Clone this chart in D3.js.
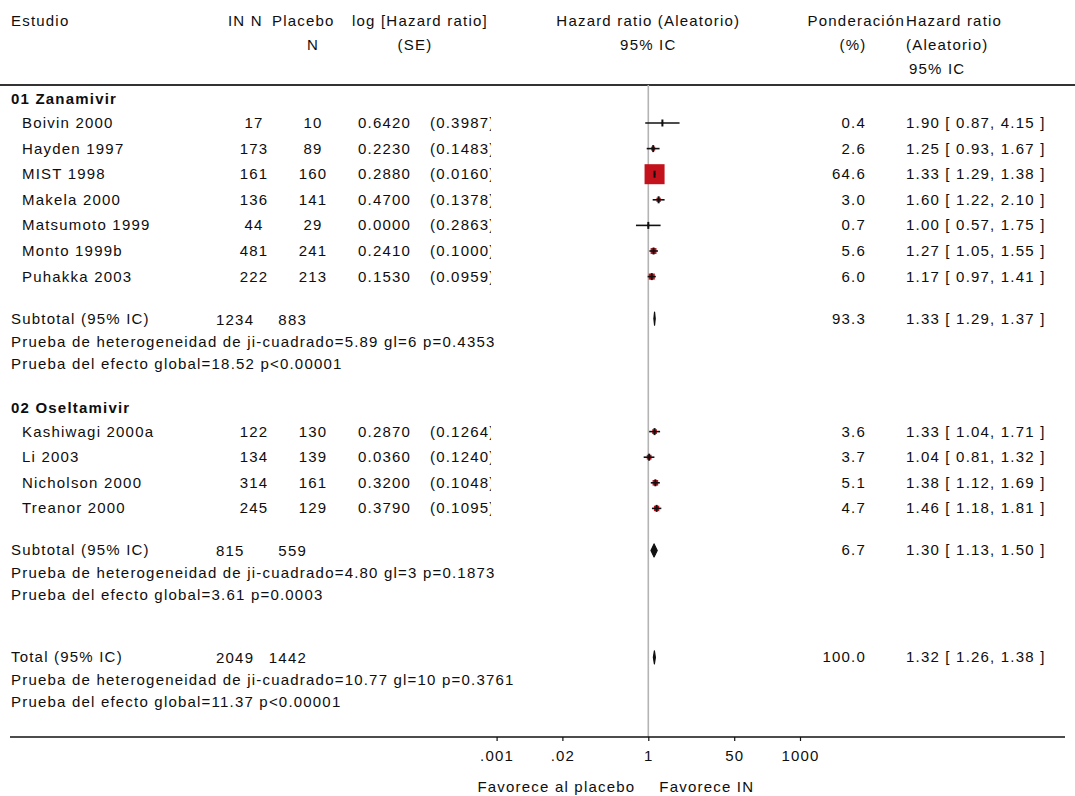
<!DOCTYPE html>
<html>
<head>
<meta charset="utf-8">
<script src="https://cdn.jsdelivr.net/npm/d3@7"></script>
<style>
  html, body { margin: 0; padding: 0; background: #fff; }
  svg text { font-family: "Liberation Sans", Arial, sans-serif; font-size: 15px; letter-spacing: 1.2px; fill: #0e0e0e; }
</style>
</head>
<body>
<svg id="chart" width="1075" height="796"></svg>
<script>
// ---- Data ----------------------------------------------------------------
const groupNames = ["01 Zanamivir", "02 Oseltamivir"];

const studyNames = ["Boivin 2000", "Hayden 1997", "MIST 1998", "Makela 2000", "Matsumoto 1999", "Monto 1999b", "Puhakka 2003",
                    "Kashiwagi 2000a", "Li 2003", "Nicholson 2000", "Treanor 2000"];
const studyGroup = [0, 0, 0, 0, 0, 0, 0, 1, 1, 1, 1];
const inN        = [17, 173, 161, 136, 44, 481, 222, 122, 134, 314, 245];
const placeboN   = [10, 89, 160, 141, 29, 241, 213, 130, 139, 161, 129];
const logHR      = [0.6420, 0.2230, 0.2880, 0.4700, 0.0000, 0.2410, 0.1530, 0.2870, 0.0360, 0.3200, 0.3790];
const logSE      = [0.3987, 0.1483, 0.0160, 0.1378, 0.2863, 0.1000, 0.0959, 0.1264, 0.1240, 0.1048, 0.1095];
const weights    = [0.4, 2.6, 64.6, 3.0, 0.7, 5.6, 6.0, 3.6, 3.7, 5.1, 4.7];
const hr         = [1.90, 1.25, 1.33, 1.60, 1.00, 1.27, 1.17, 1.33, 1.04, 1.38, 1.46];
const hrLow      = [0.87, 0.93, 1.29, 1.22, 0.57, 1.05, 0.97, 1.04, 0.81, 1.12, 1.18];
const hrHigh     = [4.15, 1.67, 1.38, 2.10, 1.75, 1.55, 1.41, 1.71, 1.32, 1.69, 1.81];

// Subtotals per group, then the overall total
const pooledLabels  = ["Subtotal (95% IC)", "Subtotal (95% IC)", "Total (95% IC)"];
const pooledInN     = [1234, 815, 2049];
const pooledPlacN   = [883, 559, 1442];
const pooledWeight  = [93.3, 6.7, 100.0];
const pooledHR      = [1.33, 1.30, 1.32];
const pooledLow     = [1.29, 1.13, 1.26];
const pooledHigh    = [1.37, 1.50, 1.38];
const chiSquare     = ["5.89", "4.80", "10.77"];
const chiDf         = [6, 3, 10];
const chiP          = ["0.4353", "0.1873", "0.3761"];
const effectZ       = ["18.52", "3.61", "11.37"];
const effectP       = ["p<0.00001", "p=0.0003", "p<0.00001"];

const tickValues = [0.001, 0.02, 1, 50, 1000];
const tickLabels = [".001", ".02", "1", "50", "1000"];

// ---- Layout ----------------------------------------------------------------
const W = 1075;
const svg = d3.select("#chart");
const x = d3.scaleLog().domain([0.001, 1000]).range([496.6, 800]);
const boxSide = d3.scaleSqrt().domain([0, 100]).range([0, 24.9]);

const col = { name: 11, indent: 22, inN: 254, plN: 313, poolIn: 216, poolPl: 307,
              logHR: 358, se: 430, seClip: 491, weight: 866, hrText: 906 };
const base = 5;              // text centre -> baseline
const rowStep = 25.6;
const headRuleY = 85, axisY = 737;

// Work out the vertical position of each row
const rows = [];
let y = 99;
groupNames.forEach((g, gi) => {
  rows.push({ type: "group", y, label: g });
  y += 24;
  const idx = studyNames.map((_, i) => i).filter(i => studyGroup[i] === gi);
  idx.forEach((i, k) => { rows.push({ type: "study", y, i }); if (k < idx.length - 1) y += rowStep; });
  y += 42;
  rows.push({ type: "pooled", y, i: gi });
  y += 23; rows.push({ type: "het", y, i: gi });
  y += 22; rows.push({ type: "eff", y, i: gi });
  y += 44;
});
y += 18;
rows.push({ type: "pooled", y, i: 2 });
y += 23; rows.push({ type: "het", y, i: 2 });
y += 22; rows.push({ type: "eff", y, i: 2 });

// ---- Header ----------------------------------------------------------------
const head = svg.append("g");
const ht = (tx, ty, s, anchor) => head.append("text").attr("x", tx).attr("y", ty + base).attr("text-anchor", anchor || "start").text(s);
ht(col.name, 21, "Estudio");
ht(228, 21, "IN N");
ht(272, 21, "Placebo");
ht(352, 21, "log [Hazard ratio]").attr("letter-spacing", "0.6px");
ht(313, 45, "N", "middle");
ht(415, 45, "(SE)", "middle");
ht(x(1), 21, "Hazard ratio (Aleatorio)", "middle");
ht(x(1), 45, "95% IC", "middle");
ht(col.hrText - 1, 21, "Ponderación", "end");
ht(853, 45, "(%)", "middle");
ht(col.hrText, 21, "Hazard ratio");
ht(col.hrText, 45, "(Aleatorio)");
ht(col.hrText + 3, 69, "95% IC");

svg.append("line").attr("x1", 0).attr("x2", W).attr("y1", headRuleY).attr("y2", headRuleY)
  .attr("stroke", "#333").attr("stroke-width", 2);

// Line of no effect
svg.append("line").attr("x1", x(1)).attr("x2", x(1)).attr("y1", headRuleY).attr("y2", axisY)
  .attr("stroke", "#b4b4b4").attr("stroke-width", 1.6);

// Clip for the truncated SE column
svg.append("defs").append("clipPath").attr("id", "seclip")
  .append("rect").attr("x", 0).attr("y", 0).attr("width", col.seClip).attr("height", 796);

const body = svg.append("g");
const txt = (tx, ty, s, anchor) => body.append("text").attr("x", tx).attr("y", ty + base).attr("text-anchor", anchor || "start").text(s);
const hrLabel = (h, l, u) => `${h.toFixed(2)} [ ${l.toFixed(2)}, ${u.toFixed(2)} ]`;

rows.forEach(r => {
  if (r.type === "group") {
    txt(col.name, r.y, r.label).attr("font-weight", "bold");
  } else if (r.type === "study") {
    const i = r.i;
    txt(col.indent, r.y, studyNames[i]);
    txt(col.inN, r.y, inN[i], "middle");
    txt(col.plN, r.y, placeboN[i], "middle");
    txt(col.logHR, r.y, logHR[i].toFixed(4));
    txt(col.se, r.y, `(${logSE[i].toFixed(4)})`).attr("clip-path", "url(#seclip)");
    txt(col.weight, r.y, weights[i].toFixed(1), "end");
    txt(col.hrText, r.y, hrLabel(hr[i], hrLow[i], hrHigh[i]));

    // Box sized by weight, confidence interval and point marker
    const s = boxSide(weights[i]);
    body.append("rect").attr("x", x(hr[i]) - s / 2).attr("y", r.y - s / 2)
      .attr("width", s).attr("height", s).attr("fill", "#c3121b");
    body.append("line").attr("x1", x(hrLow[i])).attr("x2", x(hrHigh[i]))
      .attr("y1", r.y).attr("y2", r.y).attr("stroke", "#111").attr("stroke-width", 1.6);
    body.append("line").attr("x1", x(hr[i])).attr("x2", x(hr[i]))
      .attr("y1", r.y - 3.5).attr("y2", r.y + 3.5).attr("stroke", "#111").attr("stroke-width", 2);
  } else if (r.type === "pooled") {
    const i = r.i;
    txt(col.name, r.y, pooledLabels[i]);
    txt(col.poolIn, r.y + 1, pooledInN[i]);
    txt(col.poolPl, r.y + 1, pooledPlacN[i], "end");
    txt(col.weight, r.y, pooledWeight[i].toFixed(1), "end");
    txt(col.hrText, r.y, hrLabel(pooledHR[i], pooledLow[i], pooledHigh[i]));
    const h = 6.5;
    const pts = [[x(pooledLow[i]), r.y], [x(pooledHR[i]), r.y - h], [x(pooledHigh[i]), r.y], [x(pooledHR[i]), r.y + h]];
    body.append("polygon").attr("points", pts.map(p => p.join(",")).join(" "))
      .attr("fill", "#111").attr("stroke", "#111").attr("stroke-width", 1.2).attr("stroke-linejoin", "round");
  } else if (r.type === "het") {
    txt(col.name, r.y, `Prueba de heterogeneidad de ji-cuadrado=${chiSquare[r.i]} gl=${chiDf[r.i]} p=${chiP[r.i]}`);
  } else if (r.type === "eff") {
    txt(col.name, r.y, `Prueba del efecto global=${effectZ[r.i]} ${effectP[r.i]}`);
  }
});

// ---- Axis ------------------------------------------------------------------
svg.append("line").attr("x1", 10).attr("x2", 1065).attr("y1", axisY).attr("y2", axisY)
  .attr("stroke", "#111").attr("stroke-width", 1.5);

const axis = d3.axisBottom(x).tickValues(tickValues)
  .tickFormat((d, i) => tickLabels[i]).tickSize(4).tickPadding(9);
const ax = svg.append("g").attr("transform", `translate(0,${axisY})`).call(axis);
ax.select(".domain").remove();
ax.selectAll(".tick line").attr("stroke", "#111").attr("stroke-width", 1.2);
ax.selectAll(".tick text").attr("font-size", null).attr("font-family", null).attr("fill", null);

svg.append("text").attr("x", x(1) - 13).attr("y", 792).attr("text-anchor", "end").text("Favorece al placebo");
svg.append("text").attr("x", x(1) + 11).attr("y", 792).text("Favorece IN");
</script>
</body>
</html>
